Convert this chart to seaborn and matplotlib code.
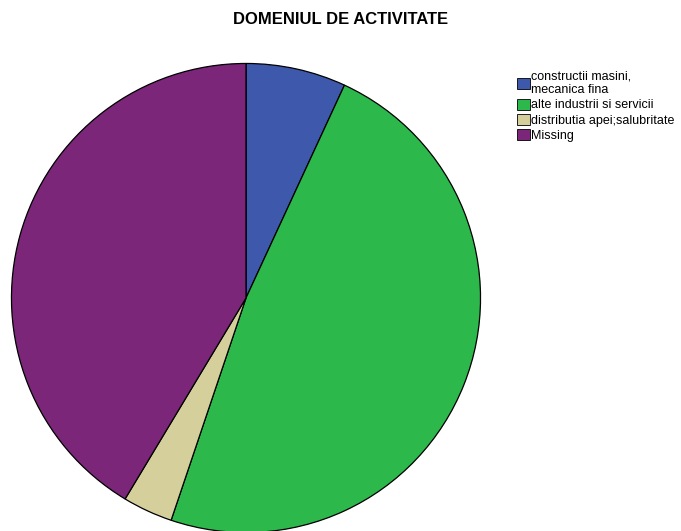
import matplotlib
matplotlib.use("Agg")
import matplotlib.pyplot as plt
import seaborn as sns

# DOMENIUL DE ACTIVITATE - counts
labels = ["constructii masini,\nmecanica fina", "alte industrii si servicii",
          "distributia apei;salubritate", "Missing"]
counts = [2, 14, 1, 12]
colors = ["#3E58AC", "#2DB84B", "#D5CF9C", "#7B2679"]

sns.set_style("white")
plt.rcParams['font.family'] = ['Liberation Sans', 'DejaVu Sans']
plt.rcParams['text.color'] = 'black'

fig = plt.figure(figsize=(6.81, 5.31), dpi=100)
ax = fig.add_axes([11 / 681, (531 - 533) / 531, 470 / 681, 470 / 531])
wedges, _ = ax.pie(counts, colors=colors, startangle=90, counterclock=False,
                   radius=1, wedgeprops=dict(edgecolor="black", linewidth=0.9))
ax.set_xlim(-1.002, 1.002)
ax.set_ylim(-1.002, 1.002)
ax.set_aspect("auto")
ax.axis("off")

fig.text(341 / 681, 1 - 19 / 531, "DOMENIUL DE ACTIVITATE", ha="center", va="center",
         fontsize=12, fontweight="bold", color="black")

leg = fig.legend(wedges, labels, loc="upper left", bbox_to_anchor=(511 / 681, 1 - 64 / 531),
                 frameon=False, fontsize=9.0, handlelength=1.0, handleheight=1.0,
                 handletextpad=0.12, labelspacing=0.2, borderpad=0)
for h in leg.legend_handles:
    h.set_linewidth(0.6)

fig.savefig("out.png", dpi=100)
